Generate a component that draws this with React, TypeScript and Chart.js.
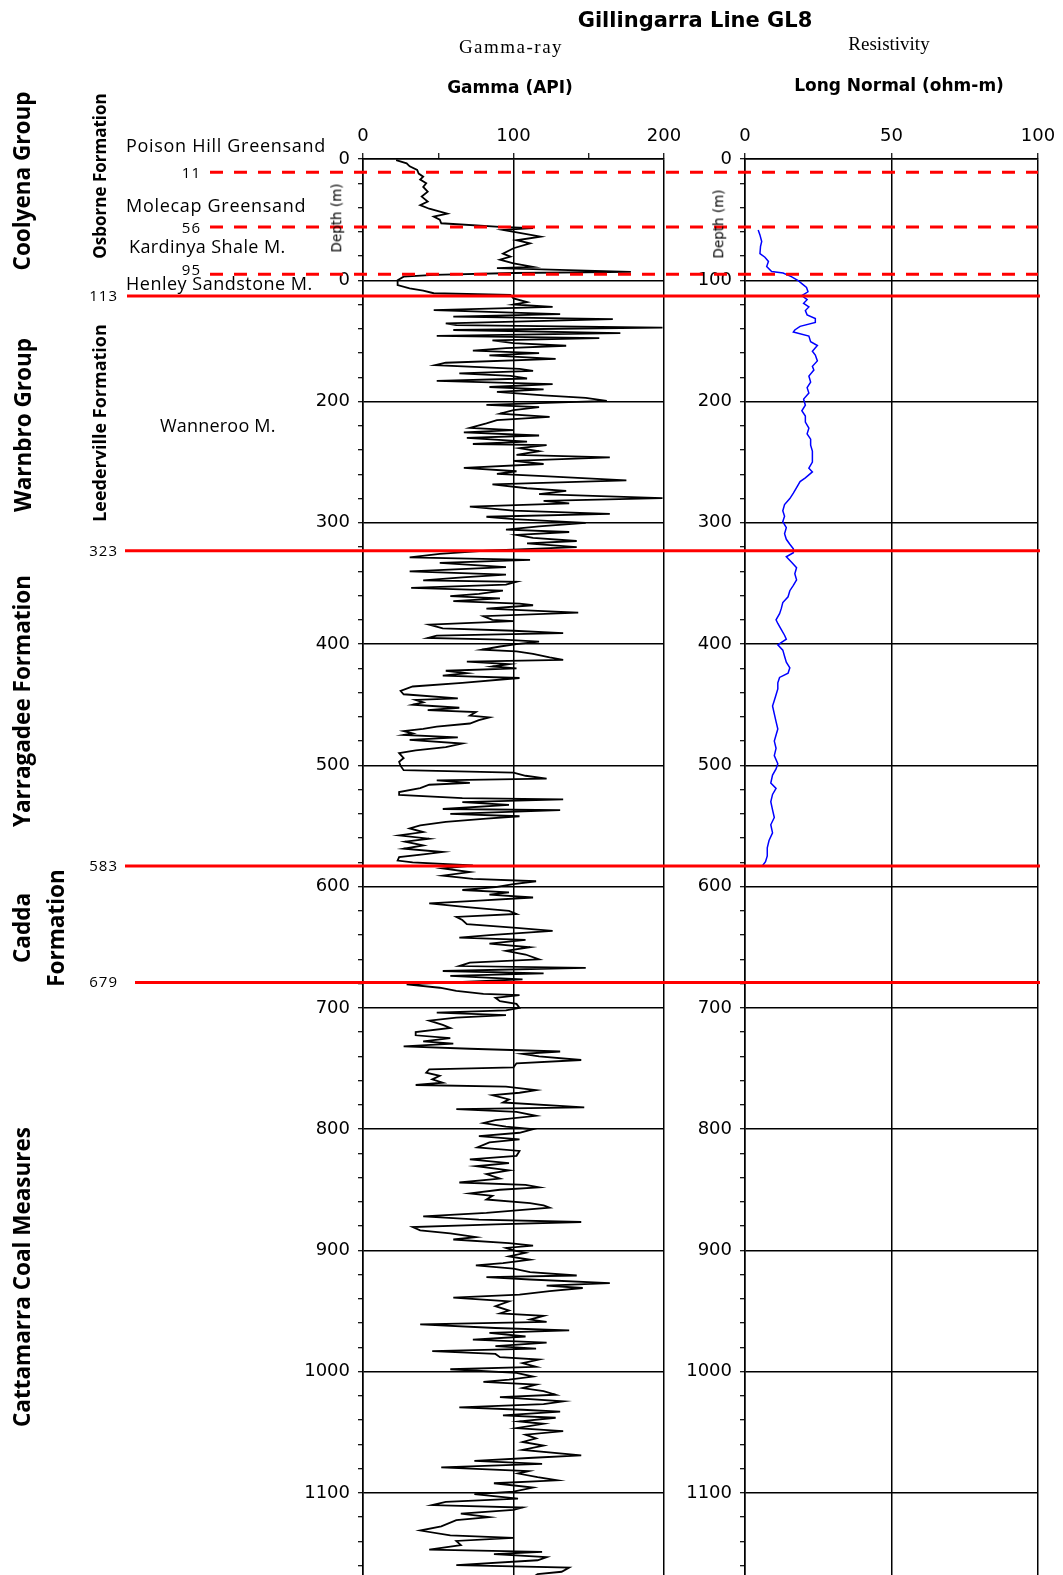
import React, { useEffect, useRef } from "react";
import { Chart, registerables } from "chart.js";

Chart.register(...registerables);

// ---------------- DATA ----------------
// Gamma-ray log (API) versus depth (m)
const gammaDepth = [
  1, 3.6, 6, 9, 12, 14.6, 17, 20, 23, 27, 31, 35, 38, 41, 45, 47.5, 50, 53, 56, 57, 58.5, 61, 64, 67, 69.5, 73.6, 78, 80.5, 83, 86, 89, 90, 93, 94, 95.6, 97, 100, 104, 106.6, 108.5, 110.7, 112,
  115, 118, 120, 122, 124.7, 128, 130, 132, 135.5, 137, 139, 141, 143.6, 145.8, 147.7, 149.6, 151.8, 154, 156, 158, 160, 162, 164.8, 168, 170, 173, 174.8, 176.7, 178.9, 181, 183, 185.6, 188, 190, 192, 195, 197, 199.5,
  202.7, 204.6, 207, 210, 212.7, 215.4, 218, 221.7, 223.6, 225.5, 228, 230, 233, 235, 236, 238.5, 241, 244, 246, 249, 251.5, 254.7, 257.5, 259.6, 261.5, 265, 268.3, 271.5, 273.7, 276.4, 279.7, 282, 284, 286.7, 290, 292.7, 295, 297,
  300, 303, 305.7, 307.6, 310, 312.5, 315, 317, 320, 323, 325.7, 328.5, 330.6, 333, 336.6, 340, 342.8, 345, 347.5, 348.6, 351, 353.6, 356, 358.6, 360.5, 362.4, 364.6, 366.6, 368, 370.7, 374, 377, 380, 381, 384, 387, 389, 391, 393, 395, 396.4, 398,
  400, 402, 404.7, 406, 408, 411, 413, 414.4, 416.6, 418.5, 420, 422, 424, 426, 428, 432, 435, 438.7, 441.4, 444.8, 446, 448, 450, 452.5, 454.4, 456, 459, 460.5, 462.7, 465.5, 468, 470, 471.8, 473.7, 475, 477, 479, 482, 485, 487.6, 490, 494, 497,
  500.5, 504, 506, 508.6, 511, 512.4, 514.4, 516, 518.8, 522, 524.3, 527, 528, 530.4, 532.6, 536, 537, 540, 542, 544, 546.7, 549.5, 552, 555, 557.7, 560.5, 563, 566, 568.8, 571.5, 573.5, 575.7, 578.5, 580, 582.6, 585, 588, 591, 593.6, 595.6, 598,
  600.5, 602.8, 604.7, 606.6, 609, 611.6, 613.8, 617, 620, 622.6, 625, 627.6, 631, 634, 636.5, 640, 642, 644, 647, 650, 653, 656, 660, 662.7, 665.5, 667, 669.6, 671.5, 673.7, 676.5, 678.5, 680.7, 683.4, 686, 688.4, 689.5, 691.7, 694.5, 696.7,
  700, 702, 704, 706, 708, 710.5, 714, 716.6, 720, 722.6, 725, 727.6, 729.5, 731.8, 733.7, 736, 738, 740, 743, 745.7, 749, 750.7, 753.4, 756, 759, 761.7, 763.6, 765, 767.8, 770, 772, 775.5, 778, 782, 783.5, 785.7, 789, 792.6, 795, 798,
  800, 803, 805.8, 808.5, 811, 815, 818, 822, 825, 828, 830.6, 834, 837, 840.8, 844, 846, 848, 850, 853, 855, 858, 861, 862.8, 864.7, 867, 869, 872, 874.6, 876.6, 878.5, 880.7, 883.5, 886, 889, 891, 894, 896, 898,
  900, 902, 905, 907.7, 910.5, 912.4, 915, 918, 920.7, 922, 924, 927, 929, 931, 933.6, 936.4, 939, 942, 946, 949.6, 952, 954, 957, 959, 961, 964, 966, 968, 971, 973.6, 976, 979, 981, 983, 985.4, 988, 990, 993, 996, 998,
  1001, 1004, 1006.6, 1008.5, 1010.7, 1013.5, 1016, 1019, 1021, 1024.5, 1026.7, 1029.5, 1031.4, 1033, 1036, 1038, 1041, 1043, 1046.6, 1049, 1052, 1055, 1058, 1061, 1064.5, 1069, 1071, 1073.6, 1076, 1079, 1082, 1084, 1087, 1089.6, 1092, 1095.6, 1099,
  1101, 1104.7, 1107.4, 1110, 1112, 1114, 1117, 1120, 1122.5, 1127.5, 1131, 1135, 1137, 1139.6, 1143, 1146.7, 1148.6, 1150.5, 1153, 1155.5, 1159.6, 1161.5, 1165, 1167, 1172,
];
const gammaApi = [
  22, 29, 31, 36, 37, 40, 38, 42, 40, 43, 39, 43, 38, 44, 56, 47, 51, 52, 91, 113, 93, 104, 118, 102, 111, 100, 93, 98, 91, 100, 113, 89, 178, 100, 47, 27, 23, 23, 31, 40, 47, 98,
  100, 109, 100, 126, 47, 131, 60, 166, 55, 62, 199, 60, 171, 49, 157, 86, 100, 135, 95, 73, 117, 84, 128, 55, 48, 104, 113, 64, 98, 109, 49, 126, 84, 120, 89, 120, 148, 162,
  82, 117, 100, 91, 124, 89, 82, 71, 100, 67, 117, 69, 109, 73, 122, 104, 117, 102, 164, 100, 120, 67, 102, 89, 120, 175, 86, 109, 135, 117, 199, 120, 137, 71, 100, 164, 82, 100,
  148, 117, 95, 137, 102, 113, 142, 109, 142, 82, 51, 31, 111, 51, 95, 31, 95, 66, 40, 102, 95, 32, 93, 77, 58, 91, 60, 104, 113, 82, 143, 80, 86, 100, 44, 53, 100, 133, 49, 43, 93, 117,
  102, 91, 79, 102, 113, 124, 133, 69, 97, 86, 102, 55, 69, 53, 104, 66, 33, 25, 27, 63, 35, 40, 33, 64, 43, 75, 71, 84, 77, 71, 49, 40, 27, 33, 27, 63, 31, 66, 55, 35, 24, 27, 24,
  25, 27, 100, 108, 122, 49, 71, 44, 38, 24, 24, 66, 133, 66, 97, 53, 131, 58, 104, 82, 55, 38, 31, 40, 24, 44, 28, 40, 27, 53, 40, 24, 23, 33, 73, 53, 71, 53, 73, 115, 100,
  88, 66, 97, 84, 113, 77, 44, 69, 97, 102, 62, 66, 69, 102, 126, 84, 64, 108, 84, 111, 95, 108, 117, 71, 64, 148, 53, 120, 58, 106, 66, 29, 51, 62, 80, 104, 88, 91, 102,
  104, 95, 49, 95, 62, 44, 53, 58, 35, 35, 58, 40, 60, 27, 71, 131, 106, 117, 145, 102, 100, 44, 42, 51, 46, 53, 35, 95, 115, 104, 86, 97, 93, 147, 62, 102, 115, 88, 80, 95,
  113, 104, 77, 104, 84, 76, 104, 102, 71, 97, 75, 97, 82, 91, 64, 108, 117, 91, 71, 86, 82, 111, 120, 124, 102, 82, 40, 77, 145, 88, 33, 38, 58, 75, 60, 97, 113, 95,
  100, 108, 97, 111, 93, 75, 100, 111, 142, 82, 111, 164, 122, 146, 124, 104, 60, 97, 88, 97, 91, 120, 111, 122, 38, 88, 137, 84, 108, 73, 122, 88, 115, 46, 88, 91, 117, 106, 115, 58,
  102, 113, 97, 80, 115, 106, 120, 128, 91, 133, 120, 64, 106, 131, 93, 128, 104, 120, 102, 133, 108, 115, 106, 120, 106, 145, 113, 74, 119, 52, 110, 103, 116, 129, 87, 113, 100,
  74, 103, 55, 46, 106, 100, 65, 84, 62, 52, 38, 58, 100, 62, 65, 44, 119, 87, 122, 116, 62, 137, 132, 116, 110,
];

// Long Normal resistivity (ohm-m) versus depth (m)
const resDepth = [
  58.5, 62.6, 68, 72, 78, 81, 84.5, 88.7, 92.8, 94, 97, 100, 103, 106, 109.5, 112.7, 116, 119, 122, 125, 128.5, 131.6, 134.8, 138, 141, 142.7, 146, 150.6, 153.8, 158.5, 161.7, 166.5, 171, 174, 179, 184, 188.6, 193, 198,
  203, 207.6, 212, 217, 222, 226.6, 231, 236, 240.8, 245.6, 250, 255, 258, 263, 266, 271, 275.6, 280, 285, 290, 294.6, 299, 304, 309, 313.6, 317.7, 321.5, 324.7, 328, 332.6, 337, 342, 347, 351.6, 356, 361, 365.8, 370.6, 375, 380, 383, 388, 392.7, 396,
  400.6, 405, 410, 415, 419.6, 424, 427.5, 432, 437, 441.8, 446.5, 451, 457.6, 464, 470, 475, 480, 486, 492, 498.7, 503, 508, 514.6, 519, 524, 530, 536.7, 543, 549, 555.7, 562, 568, 574.7, 579.4, 583,
];
const resOhm = [
  4.5, 5.1, 5.7, 5.3, 5.1, 6.8, 8, 7.4, 9.1, 13, 15.8, 18, 19.5, 21, 21.5, 19.4, 21.2, 20, 21.8, 20.6, 21.2, 24, 24, 18.8, 17, 16.5, 21.8, 22.4, 24.7, 23, 24, 24.7, 23, 23.5, 21.8, 22.4, 21.2, 21.8, 20,
  20.6, 19.4, 20.6, 20.6, 21.8, 21.2, 22.4, 22.4, 23, 23, 23, 21.8, 23, 20.6, 18.8, 17.6, 16.5, 15.3, 13.5, 12.9, 13.5, 12.9, 14.1, 13.5, 14.1, 15.3, 16.5, 16.5, 14.1, 15.9, 17.6, 17, 17.6, 16.5, 15.3, 14.7, 12.9, 12.4, 11.8, 10.6, 11.2, 12.4, 13.5, 14.1,
  11.2, 12.9, 13.5, 14.1, 15.3, 14.7, 11.8, 11.2, 11.2, 10.6, 10, 9.4, 10, 10.6, 11.2, 10.6, 10, 10.6, 10, 11.2, 10.6, 9.4, 8.8, 10.6, 9.4, 8.8, 9.4, 10, 8.8, 9.4, 8.2, 7.6, 7.6, 7, 5.9,
];

// Formation boundaries (m)
const formationTops = [113, 323, 583, 679];
const memberTops = [11, 56, 95];

// Tick settings
const gammaMax = 200;
const gammaStep = 50;
const gammaLabelEvery = 100;
const resMax = 100;
const resStep = 50;
const depthMax = 1200;
const depthStep = 20;
const depthLabelEvery = 100;

// ---------------- LAYOUT ----------------
const PAGE_W = 1063;
const PAGE_H = 1575;
const AXIS_TOP = 159;
const PX_PER_M = 1.2125;
const CANVAS_H = Math.round(AXIS_TOP + depthMax * PX_PER_M);
const GAMMA_LEFT = 363;
const GAMMA_RIGHT = 664;
const RES_LEFT = 745;
const RES_RIGHT = 1038;
const formationLineStartX = [127, 125, 125, 135];
const memberLineStartX = 210;
const RED = "#ff0000";

const TICK_FONT = { family: "DejaVu Sans", size: 18 };

function depthAxis(leftWidth: number, label100: string) {
  return {
    type: "linear",
    position: "left",
    reverse: true,
    min: 0,
    max: depthMax,
    afterFit: (s: any) => {
      s.width = leftWidth;
    },
    ticks: {
      stepSize: depthStep,
      autoSkip: false,
      padding: 8,
      color: "#000",
      font: TICK_FONT,
      callback: (v: number) =>
        v >= depthMax ? null : v % depthLabelEvery === 0 ? (v === 100 ? label100 : String(v)) : "",
    },
    grid: {
      color: (c: any) => (c.tick && c.tick.value % depthLabelEvery === 0 ? "#000" : "rgba(0,0,0,0)"),
      lineWidth: 1.4,
      tickColor: "#000",
      tickLength: 5,
      tickWidth: 1.2,
    },
    border: { display: true, color: "#000", width: 1.5 },
  };
}

function topAxis(max: number, step: number, labelEvery: number) {
  return {
    type: "linear",
    position: "top",
    min: 0,
    max,
    afterFit: (s: any) => {
      s.height = AXIS_TOP;
    },
    ticks: {
      stepSize: step,
      autoSkip: false,
      maxRotation: 0,
      padding: 6,
      color: "#000",
      font: TICK_FONT,
      callback: (v: number) => (v % labelEvery === 0 ? String(v) : ""),
    },
    grid: {
      color: (c: any) => (c.tick && c.tick.value % labelEvery === 0 ? "#000" : "rgba(0,0,0,0)"),
      lineWidth: 1.5,
      tickColor: "#000",
      tickLength: 6,
      tickWidth: 1.2,
    },
    border: { display: true, color: "#000", width: 1.5 },
  };
}

const boundaryPlugin = {
  id: "boundaries",
  afterDraw(chart: any) {
    const { ctx } = chart;
    const y = chart.scales.y;
    ctx.save();
    ctx.strokeStyle = RED;
    ctx.lineWidth = 3;
    ctx.setLineDash([13, 11]);
    memberTops.forEach((d) => {
      const py = y.getPixelForValue(d);
      ctx.beginPath();
      ctx.moveTo(memberLineStartX, py);
      ctx.lineTo(RES_RIGHT, py);
      ctx.stroke();
    });
    ctx.setLineDash([]);
    formationTops.forEach((d, i) => {
      const py = y.getPixelForValue(d);
      ctx.beginPath();
      ctx.moveTo(formationLineStartX[i], py);
      ctx.lineTo(RES_RIGHT + 2, py);
      ctx.stroke();
    });
    ctx.restore();
  },
};

// Make the depth scale match the page: 1.2125 px per metre, depth 0 at y = 159
function calibrate(chart: any, canvas: HTMLCanvasElement) {
  const y = chart.scales.y;
  const span = y.getPixelForValue(1000) - y.getPixelForValue(0);
  const want = 1000 * PX_PER_M;
  const extra = ((want - span) * depthMax) / 1000;
  if (Math.abs(extra) > 0.3) {
    chart.resize(PAGE_W, Math.round(CANVAS_H + extra));
  }
  const top = chart.scales.y.getPixelForValue(0);
  canvas.style.top = `${AXIS_TOP - top}px`;
}

type Txt = {
  text: string;
  x: number;
  y: number;
  size: number;
  family: string;
  weight?: number;
  align?: "left" | "center" | "right";
  rotate?: boolean;
  spacing?: number;
};

const SANS = "'Open Sans', sans-serif";
const DV = "'DejaVu Sans', sans-serif";
const SERIF = "'Liberation Serif', serif";

const texts: Txt[] = [
  { text: "Gillingarra Line GL8", x: 695, y: 20, size: 21, family: DV, weight: 700, align: "center" },
  { text: "Gamma-ray", x: 511, y: 46, size: 19, family: SERIF, align: "center", spacing: 1.5 },
  { text: "Resistivity", x: 889, y: 43, size: 19, family: SERIF, align: "center" },
  { text: "Gamma (API)", x: 510, y: 87, size: 17, family: DV, weight: 700, align: "center" },
  { text: "Long Normal (ohm-m)", x: 899, y: 85, size: 17, family: DV, weight: 700, align: "center" },
  { text: "Depth (m)", x: 337, y: 218, size: 13.5, family: DV, align: "center", rotate: true },
  { text: "Depth (m)", x: 719, y: 224, size: 13.5, family: DV, align: "center", rotate: true },
  { text: "Coolyena Group", x: 22, y: 181, size: 22.5, family: SANS, weight: 700, align: "center", rotate: true },
  { text: "Osborne Formation", x: 99, y: 176, size: 17, family: SANS, weight: 700, align: "center", rotate: true },
  { text: "Warnbro Group", x: 23, y: 425, size: 22.5, family: SANS, weight: 700, align: "center", rotate: true },
  { text: "Leederville Formation", x: 99, y: 423, size: 18, family: SANS, weight: 700, align: "center", rotate: true },
  { text: "Yarragadee Formation", x: 22, y: 701, size: 22.5, family: SANS, weight: 700, align: "center", rotate: true },
  { text: "Cadda", x: 22, y: 928, size: 22.5, family: SANS, weight: 700, align: "center", rotate: true },
  { text: "Formation", x: 56, y: 928, size: 22.5, family: SANS, weight: 700, align: "center", rotate: true },
  { text: "Cattamarra Coal Measures", x: 22, y: 1277, size: 22.5, family: SANS, weight: 700, align: "center", rotate: true },
  { text: "Poison Hill Greensand", x: 126, y: 145, size: 18, family: SANS, align: "left", spacing: 0.7 },
  { text: "Molecap Greensand", x: 126, y: 205, size: 18, family: SANS, align: "left", spacing: 0.7 },
  { text: "Kardinya Shale M.", x: 129, y: 246, size: 18, family: SANS, align: "left", spacing: 0.4 },
  { text: "Henley Sandstone M.", x: 126, y: 283, size: 18, family: SANS, align: "left", spacing: 0.5 },
  { text: "Wanneroo M.", x: 160, y: 425, size: 18, family: SANS, align: "left", spacing: 0.2 },
];

const memberLabelRight = 201;
const memberLabelYOffset = [0, 0, -5];
const formationLabelRight = 118;

function TextItem({ t }: { t: Txt }) {
  let transform = "translate(-50%, -50%)";
  if (t.align === "left") transform = "translate(0, -50%)";
  if (t.align === "right") transform = "translate(-100%, -50%)";
  if (t.rotate) transform = "translate(-50%, -50%) rotate(-90deg)";
  return (
    <div
      style={{
        position: "absolute",
        left: t.x,
        top: t.y,
        transform,
        fontFamily: t.family,
        fontSize: t.size,
        fontWeight: t.weight || 400,
        lineHeight: 1,
        whiteSpace: "nowrap",
        color: "#000",
        letterSpacing: t.spacing ? `${t.spacing}px` : undefined,
      }}
    >
      {t.text}
    </div>
  );
}

export default function App() {
  const gammaRef = useRef<HTMLCanvasElement>(null);
  const resRef = useRef<HTMLCanvasElement>(null);

  useEffect(() => {
    const gCanvas = gammaRef.current as HTMLCanvasElement;
    const rCanvas = resRef.current as HTMLCanvasElement;
    const gChart = new Chart(gCanvas, {
      type: "scatter",
      data: {
        datasets: [
          {
            data: gammaDepth.map((d, i) => ({ x: gammaApi[i], y: d })),
            showLine: true,
            borderColor: "#000",
            borderWidth: 1.8,
            pointRadius: 0,
            tension: 0,
          },
        ],
      },
      options: {
        animation: false,
        responsive: false,
        maintainAspectRatio: false,
        events: [],
        layout: { padding: { left: 0, top: 0, right: PAGE_W - GAMMA_RIGHT, bottom: 0 } },
        plugins: { legend: { display: false }, tooltip: { enabled: false } },
        scales: {
          x: topAxis(gammaMax, gammaStep, gammaLabelEvery) as any,
          y: depthAxis(GAMMA_LEFT, "0") as any,
        },
      },
    });

    const rChart = new Chart(rCanvas, {
      type: "scatter",
      data: {
        datasets: [
          {
            data: resDepth.map((d, i) => ({ x: resOhm[i], y: d })),
            showLine: true,
            borderColor: "#0000ff",
            borderWidth: 1.5,
            pointRadius: 0,
            tension: 0,
          },
        ],
      },
      options: {
        animation: false,
        responsive: false,
        maintainAspectRatio: false,
        events: [],
        layout: { padding: { left: 0, top: 0, right: PAGE_W - RES_RIGHT, bottom: 0 } },
        plugins: { legend: { display: false }, tooltip: { enabled: false } },
        scales: {
          x: topAxis(resMax, resStep, resStep) as any,
          y: depthAxis(RES_LEFT, "100") as any,
        },
      },
      plugins: [boundaryPlugin],
    });

    calibrate(gChart, gCanvas);
    calibrate(rChart, rCanvas);

    return () => {
      gChart.destroy();
      rChart.destroy();
    };
  }, []);

  return (
    <div
      style={{
        position: "fixed",
        left: 0,
        top: 0,
        width: PAGE_W,
        height: PAGE_H,
        overflow: "hidden",
        background: "#fff",
      }}
    >
      <canvas ref={gammaRef} width={PAGE_W} height={CANVAS_H} style={{ position: "absolute", left: 0, top: 0 }} />
      <canvas ref={resRef} width={PAGE_W} height={CANVAS_H} style={{ position: "absolute", left: 0, top: 0 }} />
      {texts.map((t, i) => (
        <TextItem key={i} t={t} />
      ))}
      {memberTops.map((d, i) => (
        <TextItem
          key={"m" + i}
          t={{
            text: String(d),
            x: memberLabelRight,
            y: AXIS_TOP + d * PX_PER_M + memberLabelYOffset[i],
            size: 15,
            family: SANS,
            align: "right",
            spacing: 1,
          }}
        />
      ))}
      {formationTops.map((d, i) => (
        <TextItem
          key={"f" + i}
          t={{
            text: String(d),
            x: formationLabelRight,
            y: AXIS_TOP + d * PX_PER_M - 1,
            size: 15,
            family: SANS,
            align: "right",
            spacing: 1,
          }}
        />
      ))}
    </div>
  );
}
